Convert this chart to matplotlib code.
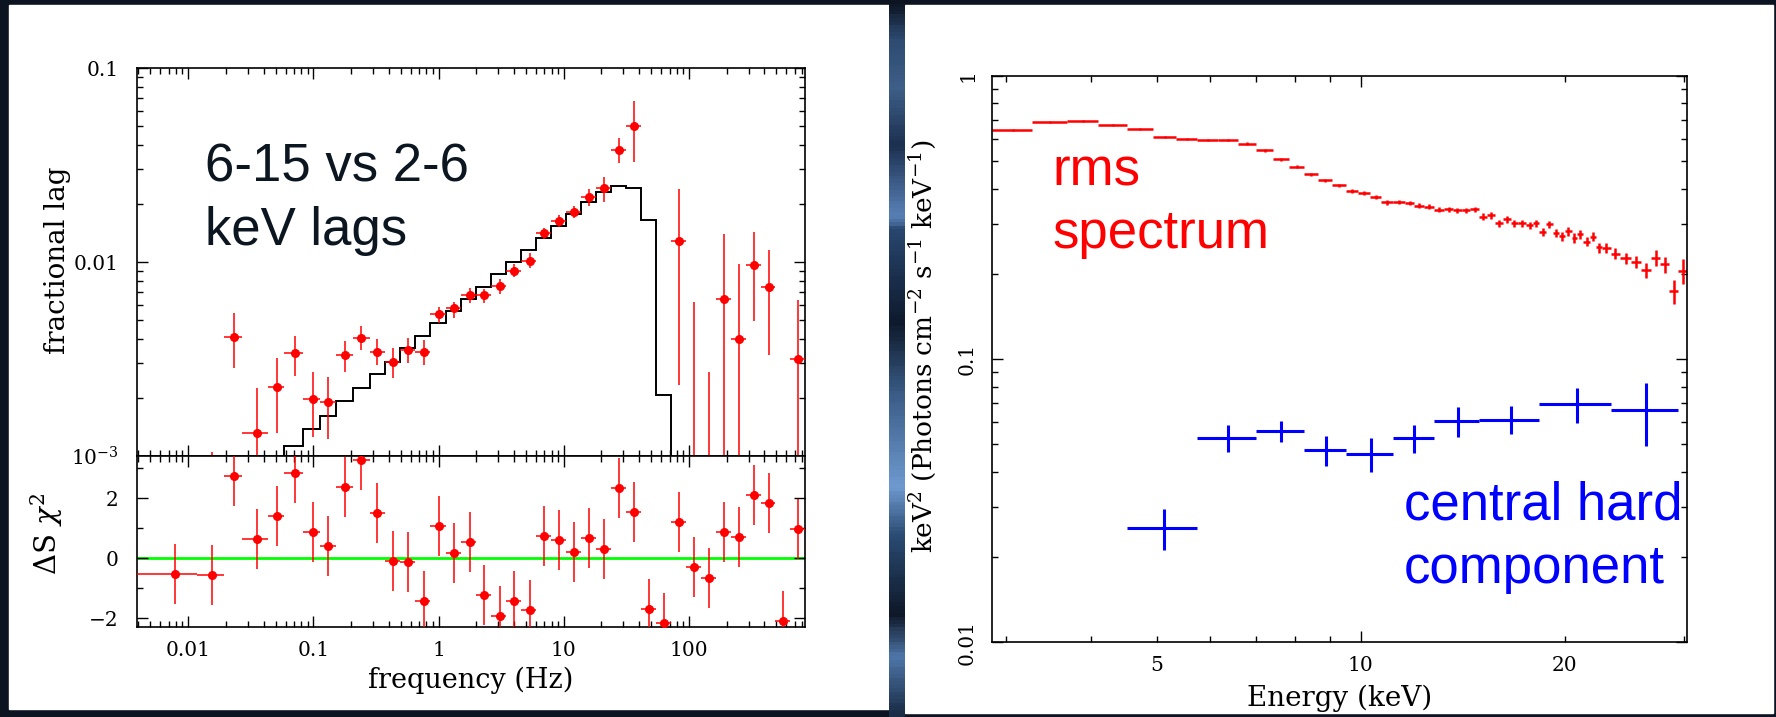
import numpy as np
import matplotlib
matplotlib.use('Agg')
import matplotlib.pyplot as plt
from matplotlib.patches import Rectangle
from matplotlib.colors import LinearSegmentedColormap
from matplotlib.ticker import FixedLocator, LogLocator, NullFormatter, FuncFormatter

plt.rcParams['font.family'] = ['DejaVu Serif']
plt.rcParams['mathtext.fontset'] = 'dejavuserif'

# ---- left panel: lag-frequency spectrum (6-15 vs 2-6 keV) ----
freq = [0.0078, 0.0156, 0.0233, 0.0354, 0.0512, 0.0708, 0.0986, 0.132, 0.1775, 0.2414,
        0.322, 0.432, 0.570, 0.759, 1.0, 1.318, 1.77, 2.32, 3.07, 4.02,
        5.33, 6.99, 9.09, 12.06, 16.0, 20.9, 27.6, 36.6, 47.6, 62.7,
        82.6, 108.8, 143.5, 189, 249, 328, 432, 569, 741]
freq_edges = [0.0039, 0.0117, 0.0195, 0.0271, 0.0437, 0.0586, 0.082, 0.1135, 0.1524, 0.2072,
              0.2812, 0.375, 0.4943, 0.6516, 0.859, 1.151, 1.517, 2.0, 2.634, 3.472,
              4.577, 6.03, 7.94, 10.42, 13.8, 18.19, 23.9, 31.4, 41.6, 54.5,
              71.8, 94.5, 124.4, 163.7, 215.4, 283.5, 373, 491, 646, 850]
lag = [0.0006, 0.0006, 0.00412, 0.00132, 0.00226, 0.00338, 0.00197, 0.00189, 0.00332, 0.00407,
       0.00345, 0.00305, 0.00352, 0.00345, 0.00537, 0.00577, 0.00676, 0.00676, 0.00752, 0.00902,
       0.01016, 0.01407, 0.0163, 0.0182, 0.0217, 0.0240, 0.0378, 0.0505, 0.0005, 0.0005,
       0.0129, 0.0006, 0.0006, 0.00643, 0.00401, 0.00968, 0.0074, 0.0005, 0.00315]
lag_lo = [0.0003, 0.0003, 0.00283, 0.0008, 0.00131, 0.00258, 0.00126, 0.00123, 0.0027, 0.00352,
          0.00294, 0.00251, 0.00303, 0.00294, 0.00486, 0.00516, 0.00612, 0.00612, 0.00684, 0.00834,
          0.00935, 0.0131, 0.0151, 0.0168, 0.0195, 0.0205, 0.0323, 0.0329, 0.0002, 0.0002,
          0.00232, 0.0002, 0.0002, 0.0005, 0.0005, 0.00499, 0.00332, 0.0002, 0.0005]
lag_hi = [0.0009, 0.00105, 0.00545, 0.00223, 0.00319, 0.00417, 0.0027, 0.00256, 0.00392, 0.00468,
          0.00401, 0.00359, 0.00407, 0.00396, 0.00589, 0.00625, 0.00731, 0.00728, 0.00815, 0.00977,
          0.0111, 0.0149, 0.0175, 0.0194, 0.0239, 0.0274, 0.0438, 0.0676, 0.0008, 0.0008,
          0.0237, 0.0062, 0.00271, 0.0139, 0.00977, 0.0143, 0.01153, 0.0008, 0.00637]
model_lag = [0.0003, 0.0004, 0.0005, 0.0007, 0.00093, 0.00113, 0.00137, 0.00161, 0.00191, 0.00225,
             0.00264, 0.00306, 0.00359, 0.00416, 0.00483, 0.00561, 0.00647, 0.00746, 0.00865, 0.00996,
             0.01153, 0.01324, 0.01538, 0.01767, 0.02033, 0.02296, 0.02473, 0.02398, 0.01641, 0.00206,
             1e-5, 1e-5, 1e-5, 1e-5, 1e-5, 1e-5, 1e-5, 1e-5, 1e-5]
resid = [-0.52, -0.56, 2.74, 0.63, 1.41, 2.85, 0.87, 0.41, 2.37, 3.28,
         1.52, -0.09, -0.11, -1.41, 1.07, 0.19, 0.54, -1.22, -1.92, -1.43,
         -1.71, 0.74, 0.61, 0.20, 0.68, 0.31, 2.33, 1.55, -1.69, -2.17,
         1.22, -0.30, -0.65, 0.87, 0.71, 2.10, 1.83, -2.08, 0.99]
resid_err = 1.0

# ---- right panel: rms spectrum and central hard component ----
rms_edges = [2.861, 3.278, 3.684, 4.093, 4.517, 4.933, 5.340, 5.740, 6.164, 6.584,
             7.007, 7.416, 7.830, 8.247, 8.647, 9.059, 9.502, 9.915, 10.33, 10.71,
             11.17, 11.62, 11.98, 12.40, 12.82, 13.27, 13.68, 14.09, 14.49, 14.96,
             15.36, 15.78, 16.21, 16.64, 17.06, 17.53, 17.95, 18.32, 18.76, 19.19,
             19.59, 20.01, 20.47, 20.84, 21.27, 21.79, 22.23, 22.66, 23.37, 24.12,
             25.04, 25.90, 26.80, 27.62, 28.51, 29.40, 30.25]
rms = [0.644, 0.689, 0.693, 0.671, 0.648, 0.610, 0.598, 0.594, 0.594, 0.576,
       0.546, 0.509, 0.478, 0.449, 0.429, 0.411, 0.393, 0.385, 0.375, 0.358,
       0.359, 0.356, 0.348, 0.345, 0.337, 0.339, 0.335, 0.335, 0.339, 0.318,
       0.322, 0.302, 0.312, 0.302, 0.302, 0.297, 0.302, 0.281, 0.299, 0.279,
       0.272, 0.283, 0.268, 0.276, 0.260, 0.271, 0.248, 0.247, 0.236, 0.227,
       0.221, 0.206, 0.228, 0.216, 0.174, 0.205]
rms_err = [0.005, 0.005, 0.005, 0.005, 0.005, 0.005, 0.005, 0.005, 0.005, 0.007,
           0.0065, 0.006, 0.006, 0.0055, 0.005, 0.005, 0.006, 0.006, 0.006, 0.007,
           0.007, 0.007, 0.007, 0.007, 0.007, 0.007, 0.007, 0.007, 0.007, 0.009,
           0.009, 0.009, 0.009, 0.009, 0.009, 0.009, 0.009, 0.009, 0.009, 0.010,
           0.010, 0.010, 0.010, 0.010, 0.010, 0.010, 0.010, 0.010, 0.010, 0.010,
           0.011, 0.012, 0.014, 0.014, 0.017, 0.021]
hard_edges = [4.517, 5.740, 7.007, 8.247, 9.502, 11.17, 12.82, 14.96, 18.32, 23.37, 29.40]
hard = [0.0254, 0.0527, 0.0558, 0.0477, 0.0464, 0.0525, 0.0605, 0.0612, 0.0693, 0.0660]
hard_err = [0.0042, 0.0058, 0.0048, 0.0058, 0.0063, 0.0060, 0.0074, 0.0070, 0.0098, 0.0167]

# slide background bands seen through the gap between the two panels
strip_stops = [0.0, 0.05, 0.12, 0.2, 0.3, 0.32, 0.45, 0.55, 0.68, 0.75, 0.86, 0.92, 1.0]
strip_colors = ['#0c1422', '#2d4a70', '#3e5f88', '#1c3050', '#5a82b8', '#28466e', '#0e1a2c',
                '#3a5c86', '#6f9ad0', '#2a4a72', '#0e1828', '#4e76a8', '#1a2c46']

W, H = 1776, 717


def box(x0, y0, x1, y1):
    return [x0 / W, 1 - y1 / H, (x1 - x0) / W, (y1 - y0) / H]


fig = plt.figure(figsize=(W / 100, H / 100), dpi=100, facecolor='#0c1422')
fig.add_artist(Rectangle((9 / W, 1 - 709 / H), 880 / W, 704 / H, transform=fig.transFigure,
                         color='white', zorder=-5))
fig.add_artist(Rectangle((905 / W, 1 - 713 / H), 868 / W, 708 / H, transform=fig.transFigure,
                         color='white', zorder=-5))
gap = fig.add_axes(box(889, 0, 905, 717), zorder=-4)
gap.imshow(np.linspace(0, 1, 200)[:, None], aspect='auto',
           cmap=LinearSegmentedColormap.from_list('strip', list(zip(strip_stops, strip_colors))))
gap.axis('off')


def style(ax):
    ax.tick_params(which='both', direction='in', top=True, right=True, width=1,
                   labelsize=14.5, colors='black')
    ax.tick_params(which='major', length=8)
    ax.tick_params(which='minor', length=4.3)
    ax.tick_params(axis='y', pad=13)
    ax.tick_params(axis='x', pad=10)
    for s in ax.spines.values():
        s.set_linewidth(1.2)


ax1 = fig.add_axes(box(136.7, 68, 805, 456))
ax2 = fig.add_axes(box(136.7, 456, 805, 627.3))
ax3 = fig.add_axes(box(992.3, 76, 1686.7, 642.3))

f = np.array(freq)
fe = np.array(freq_edges)
xerr = [f - fe[:-1], fe[1:] - f]
lg = np.array(lag)
yerr = [lg - np.array(lag_lo), np.array(lag_hi) - lg]

# upper: lags with model
ax1.set_xscale('log')
ax1.set_yscale('log')
ax1.stairs(model_lag, freq_edges, baseline=None, color='black', lw=1.4, zorder=2)
ax1.errorbar(f, lg, xerr=xerr, yerr=yerr, fmt='o', color='#ff0000', ms=5.5,
             elinewidth=1.1, capsize=0, zorder=3)
ax1.set_xlim(0.00388, 845)
ax1.set_ylim(1e-3, 0.1)
ax1.set_yticks([1e-3, 1e-2, 1e-1], labels=[r'$10^{-3}$', '0.01', '0.1'])
ax1.yaxis.set_minor_locator(LogLocator(base=10, subs=np.arange(2, 10)))
ax1.yaxis.set_minor_formatter(NullFormatter())
ax1.xaxis.set_minor_locator(LogLocator(base=10, subs=np.arange(2, 10), numticks=20))
style(ax1)
ax1.tick_params(labelbottom=False)
ax1.set_ylabel('fractional lag', fontsize=20)
ax1.yaxis.label.set_va('center')
ax1.yaxis.set_label_coords(-0.119, 0.505)

# lower: residuals
ax2.set_xscale('log')
ax2.axhline(0, color='#00ff00', lw=2, zorder=1)
ax2.errorbar(f, resid, xerr=xerr, yerr=resid_err, fmt='o', color='#ff0000', ms=5.5,
             elinewidth=1.1, capsize=0, zorder=3)
ax2.set_xlim(0.00388, 845)
ax2.set_ylim(-2.3, 3.41)
ax2.set_yticks([-2, 0, 2], labels=['\u22122', '0', '2'])
ax2.yaxis.set_minor_locator(FixedLocator([-1, 1, 3]))
ax2.set_xticks([0.01, 0.1, 1, 10, 100], labels=['0.01', '0.1', '1', '10', '100'])
ax2.xaxis.set_minor_locator(LogLocator(base=10, subs=np.arange(2, 10), numticks=20))
ax2.xaxis.set_minor_formatter(NullFormatter())
style(ax2)
ax2.set_ylabel(r'$\Delta$S $\chi^2$', fontsize=21)
ax2.yaxis.label.set_va('center')
ax2.yaxis.set_label_coords(-0.135, 0.545)
ax2.set_xlabel('frequency (Hz)', fontsize=19.5)
ax2.xaxis.label.set_va('center')
ax2.xaxis.set_label_coords(0.5, -0.308)

# right: energy spectra
re = np.array(rms_edges)
rmid = (re[:-1] + re[1:]) / 2
he = np.array(hard_edges)
hmid = (he[:-1] + he[1:]) / 2
ax3.set_xscale('log')
ax3.set_yscale('log')
ax3.errorbar(rmid, rms, xerr=[rmid - re[:-1], re[1:] - rmid], yerr=rms_err, fmt='none',
             ecolor='#ff0000', elinewidth=1.8, capsize=0)
ax3.errorbar(hmid, hard, xerr=[hmid - he[:-1], he[1:] - hmid], yerr=hard_err, fmt='none',
             ecolor='#0000ff', elinewidth=2.2, capsize=0)
ax3.set_xlim(2.86, 30.25)
ax3.set_ylim(0.01, 1)
ax3.xaxis.set_major_locator(FixedLocator([10]))
ax3.xaxis.set_minor_locator(FixedLocator([3, 4, 5, 6, 7, 8, 9, 20, 30]))
ax3.xaxis.set_major_formatter(FuncFormatter(lambda v, p: '%g' % v))
ax3.xaxis.set_minor_formatter(FuncFormatter(lambda v, p: '%g' % v if v in (5, 20) else ''))
ax3.set_yticks([0.01, 0.1, 1], labels=['0.01', '0.1', '1'])
ax3.yaxis.set_minor_locator(LogLocator(base=10, subs=np.arange(2, 10)))
ax3.yaxis.set_minor_formatter(NullFormatter())
style(ax3)
ax3.tick_params(axis='x', which='both', labelsize=14.5, pad=10)
ax3.tick_params(axis='y', pad=11)
for lab in ax3.get_yticklabels():
    lab.set_rotation(90)
    lab.set_va('center')
ax3.set_ylabel(r'keV$^2$ (Photons cm$^{-2}$ s$^{-1}$ keV$^{-1}$)', fontsize=19)
ax3.yaxis.label.set_va('center')
ax3.yaxis.set_label_coords(-0.0998, 0.523)
ax3.set_xlabel('Energy (keV)', fontsize=20)
ax3.xaxis.label.set_va('center')
ax3.xaxis.set_label_coords(0.5, -0.0984)

# annotations
sans = 'Liberation Sans'
fig.text(205 / W, 1 - 181.7 / H, '6-15 vs 2-6', fontsize=38, family=sans, color='#0b1620', va='baseline')
fig.text(205 / W, 1 - 245 / H, 'keV lags', fontsize=38, family=sans, color='#0b1620', va='baseline')
fig.text(1052.7 / W, 1 - 185 / H, 'rms', fontsize=38, family=sans, color='#ff0000', va='baseline')
fig.text(1052.7 / W, 1 - 248 / H, 'spectrum', fontsize=38, family=sans, color='#ff0000', va='baseline')
fig.text(1404 / W, 1 - 519.3 / H, 'central hard', fontsize=38, family=sans, color='#0000ff', va='baseline')
fig.text(1404 / W, 1 - 583.3 / H, 'component', fontsize=38, family=sans, color='#0000ff', va='baseline')

fig.savefig('out.png', dpi=100, facecolor=fig.get_facecolor())
